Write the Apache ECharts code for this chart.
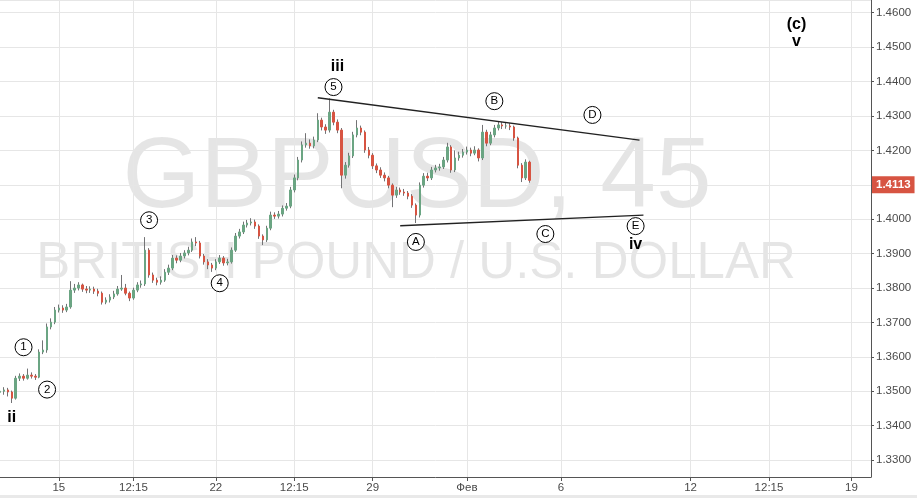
<!DOCTYPE html>
<html>
<head>
<meta charset="utf-8">
<script src="https://cdn.jsdelivr.net/npm/echarts@6/dist/echarts.min.js"></script>
<style>
  html, body { margin: 0; padding: 0; background: #fff; }
  #main { width: 917px; height: 498px; }
</style>
</head>
<body>
<div id="main"></div>
<script>
const opens = [1.3497,
  1.3500,1.3504,1.3498,1.3480,1.3538,1.3544,1.3538,1.3547,1.3544,1.3541,
  1.3614,1.3620,1.3687,1.3701,1.3736,1.3742,1.3736,1.3745,1.3794,1.3800,
  1.3809,1.3797,1.3794,1.3797,1.3791,1.3785,1.3759,1.3765,1.3774,1.3783,
  1.3797,1.3800,1.3785,1.3771,1.3794,1.3809,1.3812,1.3910,1.3838,1.3823,
  1.3817,1.3823,1.3846,1.3858,1.3887,1.3881,1.3893,1.3902,1.3910,1.3934,
  1.3931,1.3893,1.3876,1.3867,1.3858,1.3876,1.3887,1.3873,1.3876,1.3910,
  1.3951,1.3963,1.3983,1.3989,1.3992,1.3980,1.3951,1.3940,1.3974,1.4012,
  1.4009,1.4015,1.4032,1.4038,1.4085,1.4120,1.4172,1.4216,1.4221,1.4213,
  1.4230,1.4288,1.4268,1.4259,1.4311,1.4282,1.4259,1.4128,1.4157,1.4184,
  1.4245,1.4265,1.4253,1.4201,1.4186,1.4155,1.4143,1.4128,1.4120,1.4099,
  1.4070,1.4085,1.4079,1.4076,1.4067,1.4041,1.4012,1.4099,1.4125,1.4120,
  1.4143,1.4149,1.4152,1.4172,1.4210,1.4143,1.4178,1.4186,1.4195,1.4201,
  1.4192,1.4201,1.4178,1.4253,1.4221,1.4245,1.4265,1.4274,1.4271,1.4271,
  1.4268,1.4236,1.4157,1.4120,1.4166];
const closes = [1.3500,
  1.3504,1.3498,1.3480,1.3538,1.3544,1.3538,1.3547,1.3544,1.3541,1.3614,
  1.3620,1.3687,1.3701,1.3736,1.3742,1.3736,1.3745,1.3794,1.3800,1.3809,
  1.3797,1.3794,1.3797,1.3791,1.3785,1.3759,1.3765,1.3774,1.3783,1.3797,
  1.3800,1.3785,1.3771,1.3794,1.3809,1.3812,1.3910,1.3838,1.3823,1.3817,
  1.3823,1.3846,1.3858,1.3887,1.3881,1.3893,1.3902,1.3910,1.3934,1.3931,
  1.3893,1.3876,1.3867,1.3858,1.3876,1.3887,1.3873,1.3876,1.3910,1.3951,
  1.3963,1.3983,1.3989,1.3992,1.3980,1.3951,1.3940,1.3974,1.4012,1.4009,
  1.4015,1.4032,1.4038,1.4085,1.4120,1.4172,1.4216,1.4221,1.4213,1.4230,
  1.4288,1.4268,1.4259,1.4311,1.4282,1.4259,1.4128,1.4157,1.4184,1.4245,
  1.4265,1.4253,1.4201,1.4186,1.4155,1.4143,1.4128,1.4120,1.4099,1.4070,
  1.4085,1.4079,1.4076,1.4067,1.4041,1.4012,1.4099,1.4125,1.4120,1.4143,
  1.4149,1.4152,1.4172,1.4210,1.4143,1.4178,1.4186,1.4195,1.4201,1.4192,
  1.4201,1.4178,1.4253,1.4221,1.4245,1.4265,1.4274,1.4271,1.4271,1.4268,
  1.4236,1.4157,1.4120,1.4166,1.4113];
const highs = [1.3506,
  1.3512,1.3510,1.3502,1.3545,1.3552,1.3550,1.3566,1.3555,1.3550,1.3622,
  1.3648,1.3697,1.3712,1.3745,1.3752,1.3750,1.3754,1.3820,1.3812,1.3817,
  1.3813,1.3806,1.3805,1.3804,1.3798,1.3790,1.3773,1.3782,1.3792,1.3806,
  1.3838,1.3812,1.3790,1.3801,1.3817,1.3822,1.3948,1.3916,1.3845,1.3830,
  1.3834,1.3855,1.3868,1.3896,1.3895,1.3902,1.3910,1.3920,1.3944,1.3948,
  1.3937,1.3899,1.3884,1.3873,1.3884,1.3896,1.3893,1.3885,1.3918,1.3960,
  1.3972,1.3993,1.3998,1.4003,1.3999,1.3985,1.3956,1.3981,1.4022,1.4020,
  1.4024,1.4040,1.4047,1.4094,1.4130,1.4181,1.4226,1.4250,1.4232,1.4240,
  1.4308,1.4295,1.4276,1.4351,1.4318,1.4290,1.4265,1.4166,1.4193,1.4254,
  1.4288,1.4272,1.4258,1.4210,1.4192,1.4162,1.4151,1.4136,1.4126,1.4104,
  1.4094,1.4092,1.4088,1.4082,1.4073,1.4046,1.4107,1.4134,1.4135,1.4152,
  1.4158,1.4161,1.4181,1.4222,1.4215,1.4200,1.4196,1.4204,1.4211,1.4208,
  1.4212,1.4206,1.4274,1.4260,1.4254,1.4274,1.4284,1.4282,1.4281,1.4279,
  1.4272,1.4240,1.4163,1.4174,1.4170];
const lows = [1.3490,
  1.3490,1.3485,1.3466,1.3476,1.3530,1.3531,1.3534,1.3537,1.3533,1.3538,
  1.3608,1.3612,1.3680,1.3695,1.3729,1.3728,1.3730,1.3740,1.3786,1.3793,
  1.3789,1.3785,1.3786,1.3783,1.3776,1.3752,1.3753,1.3758,1.3768,1.3778,
  1.3792,1.3779,1.3762,1.3766,1.3788,1.3801,1.3806,1.3830,1.3815,1.3808,
  1.3810,1.3818,1.3838,1.3852,1.3872,1.3875,1.3886,1.3895,1.3905,1.3922,
  1.3886,1.3868,1.3855,1.3847,1.3852,1.3870,1.3865,1.3866,1.3871,1.3905,
  1.3944,1.3957,1.3976,1.3982,1.3972,1.3943,1.3925,1.3934,1.3968,1.4001,
  1.4002,1.4008,1.4025,1.4032,1.4078,1.4113,1.4165,1.4208,1.4205,1.4206,
  1.4224,1.4258,1.4248,1.4252,1.4273,1.4250,1.4090,1.4118,1.4150,1.4178,
  1.4238,1.4244,1.4193,1.4177,1.4146,1.4134,1.4120,1.4110,1.4090,1.4035,
  1.4062,1.4071,1.4068,1.4058,1.4033,1.3989,1.4005,1.4092,1.4111,1.4114,
  1.4136,1.4141,1.4146,1.4165,1.4135,1.4137,1.4170,1.4179,1.4188,1.4183,
  1.4186,1.4168,1.4172,1.4212,1.4215,1.4238,1.4258,1.4262,1.4263,1.4259,
  1.4228,1.4148,1.4108,1.4114,1.4106];

const lastPrice = 1.4113;

// time slots on the x axis (data + empty future space)
const slotCount = 223;
const tickIndex = [15, 34, 55, 75, 95, 119, 143, 176, 196, 217];
const tickLabels = ['15', '12:15', '22', '12:15', '29', 'Фев', '6', '12', '12:15', '19'];

// elliott wave marks (slot, price, text)
const circleIdx = [5.85, 11.95, 37.64, 55.69, 84.94, 106.04, 125.62, 139.1, 151.05, 161.5];
const circlePrice = [1.3628, 1.3505, 1.3997, 1.3814, 1.4384, 1.3934, 1.4343, 1.3957, 1.4303, 1.3980];
const circleText = ['1', '2', '3', '4', '5', 'A', 'B', 'C', 'D', 'E'];
const romanIdx = [3.05, 85.9, 161.5, 202.9, 202.6];
const romanPrice = [1.3425, 1.4443, 1.3926, 1.4566, 1.4515];
const romanText = ['ii', 'iii', 'iv', '(c)', 'v'];

// triangle lines
const upperLine = [[80.61, 1.4353], [163.08, 1.4230]];
const lowerLine = [[101.64, 1.3981], [163.69, 1.4012]];

const FONT = 'Liberation Sans, Arial, sans-serif';
const categories = Array.from({ length: slotCount }, (_, i) => String(i));
const isTick = (i) => tickIndex.indexOf(i) >= 0;

let candles = [];
let bodies = [];
for (let i = 0; i < closes.length; i++) {
  candles.push([opens[i], closes[i], lows[i], highs[i]]);
  bodies.push([opens[i], closes[i], Math.min(opens[i], closes[i]), Math.max(opens[i], closes[i])]);
}

let circles = circleIdx.map((x, i) => [x, circlePrice[i], circleText[i]]);
let romans = romanIdx.map((x, i) => [x, romanPrice[i], romanText[i]]);

let myChart = echarts.init(document.getElementById('main'), null, { renderer: 'canvas' });

let option = {
  animation: false,
  backgroundColor: '#fff',
  textStyle: { fontFamily: FONT },
  grid: { left: -2, right: 46, top: 0, bottom: 21 },
  graphic: [
    {
      type: 'text', z: -1, silent: true,
      style: { text: 'GBPUSD, 45', x: 417, y: 179, align: 'center', verticalAlign: 'middle',
        font: '100px ' + FONT, fill: 'rgba(0,0,0,0.1)' }
    },
    {
      type: 'text', z: -1, silent: true,
      style: { text: 'BRITISH POUND / U.S. DOLLAR', x: 416, y: 264, align: 'center', verticalAlign: 'middle',
        font: '51px ' + FONT, fill: 'rgba(0,0,0,0.1)' }
    },
    { type: 'rect', silent: true, shape: { x: 0, y: 495, width: 917, height: 3 }, style: { fill: '#e9e9e9' } }
  ],
  xAxis: {
    type: 'category',
    data: categories,
    boundaryGap: false,
    axisLine: { lineStyle: { color: '#555', width: 1 } },
    axisTick: { show: true, interval: isTick, length: 4, lineStyle: { color: '#555' } },
    axisLabel: {
      interval: isTick, margin: 5, color: '#4a4a4a', fontSize: 11.5, fontFamily: FONT,
      formatter: (v) => tickLabels[tickIndex.indexOf(+v)] || ''
    },
    splitLine: { show: true, interval: isTick, lineStyle: { color: '#e6e6e6' } }
  },
  yAxis: {
    type: 'value',
    position: 'right',
    min: 1.3251,
    max: 1.4637,
    splitNumber: 14,
    minInterval: 0.01,
    maxInterval: 0.01,
    axisLine: { show: true, lineStyle: { color: '#555' } },
    axisTick: { show: true, length: 3, lineStyle: { color: '#555' } },
    axisLabel: {
      margin: 5, color: '#4a4a4a', fontSize: 11.5, fontFamily: FONT,
      showMinLabel: false, showMaxLabel: false,
      formatter: (v) => (Math.abs(v - 1.41) < 1e-6 ? '' : v.toFixed(4))
    },
    splitLine: { lineStyle: { color: '#e6e6e6' } }
  },
  series: [
    {
      name: 'wick',
      type: 'candlestick',
      data: candles,
      barWidth: 1,
      z: 2,
      itemStyle: { color: '#737375', color0: '#737375', borderColor: '#737375', borderColor0: '#737375', borderWidth: 1 }
    },
    {
      name: 'body',
      type: 'candlestick',
      data: bodies,
      barWidth: 2,
      z: 3,
      itemStyle: { color: '#6ba583', color0: '#d75442', borderColor: '#6ba583', borderColor0: '#d75442', borderWidth: 1 },
      markLine: {
        silent: true, symbol: 'none',
        lineStyle: { color: 'rgba(0,0,0,0)', width: 0 },
        label: {
          show: true, position: 'end', distance: 1, formatter: lastPrice.toFixed(4),
          backgroundColor: '#d75442', color: '#fff', fontWeight: 'bold', fontSize: 11.5,
          fontFamily: FONT, padding: [3, 4, 2, 4]
        },
        data: [{ yAxis: lastPrice }]
      }
    },
    {
      name: 'upper',
      type: 'line',
      data: upperLine,
      symbol: 'none',
      z: 4,
      lineStyle: { color: '#222', width: 1.4 }
    },
    {
      name: 'lower',
      type: 'line',
      data: lowerLine,
      symbol: 'none',
      z: 4,
      lineStyle: { color: '#222', width: 1.4 }
    },
    {
      name: 'waves',
      type: 'scatter',
      data: circles,
      symbol: 'circle',
      symbolSize: 17,
      z: 5,
      itemStyle: { color: '#fff', borderColor: '#000', borderWidth: 1, opacity: 1 },
      label: { show: true, position: 'inside', formatter: (p) => p.data[2], color: '#000', fontSize: 11.5,
        fontFamily: FONT, textBorderWidth: 0 }
    },
    {
      name: 'degrees',
      type: 'scatter',
      data: romans,
      symbolSize: 1,
      itemStyle: { color: 'rgba(255,255,255,0)', opacity: 1 },
      z: 5,
      label: { show: true, position: 'inside', formatter: (p) => p.data[2], color: '#000', fontSize: 16,
        fontWeight: 'bold', fontFamily: FONT, textBorderWidth: 0 }
    }
  ]
};

myChart.setOption(option);
</script>
</body>
</html>
